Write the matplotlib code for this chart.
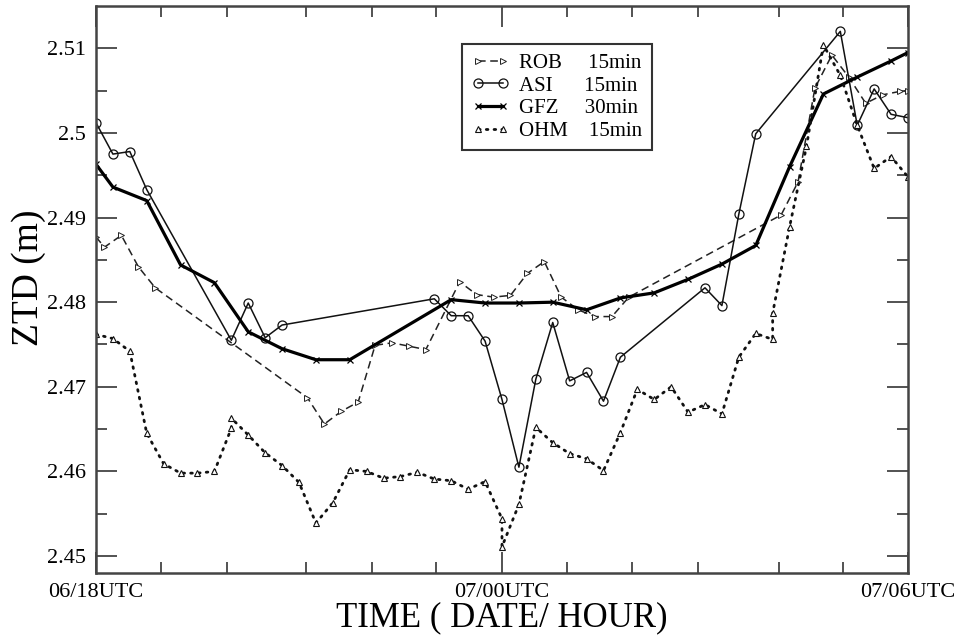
import matplotlib
matplotlib.use('Agg')
import matplotlib.pyplot as plt
from matplotlib.ticker import FixedLocator, FormatStrFormatter

plt.rcParams['font.family'] = ['Liberation Serif', 'DejaVu Serif']

# time in hours after 06/18UTC
rob_t = [0, 0.125, 0.375, 0.625, 0.875, 3.125, 3.375, 3.625, 3.875, 4.125, 4.375, 4.625,
         4.875, 5.375, 5.625, 5.875, 6.125, 6.375, 6.625, 6.875, 7.125, 7.375, 7.625, 7.875,
         10.125, 10.375, 10.625, 10.875, 11.125, 11.375, 11.625, 11.875, 12.0]
rob_ztd = [2.4877, 2.4865, 2.4879, 2.4842, 2.4817, 2.4687, 2.4656, 2.4671, 2.4682, 2.4749,
           2.4752, 2.4748, 2.4744, 2.4824, 2.4809, 2.4806, 2.4808, 2.4834, 2.4848, 2.4806,
           2.4791, 2.4783, 2.4783, 2.4806, 2.4903, 2.4942, 2.5053, 2.5092, 2.5066, 2.5035,
           2.5045, 2.5049, 2.5050]

asi_t = [0, 0.25, 0.5, 0.75, 2.0, 2.25, 2.5, 2.75, 5.0, 5.25, 5.5, 5.75, 6.0, 6.25, 6.5,
         6.75, 7.0, 7.25, 7.5, 7.75, 9.0, 9.25, 9.5, 9.75, 11.0, 11.25, 11.5, 11.75, 12.0]
asi_ztd = [2.5012, 2.4975, 2.4978, 2.4933, 2.4755, 2.4799, 2.4758, 2.4773, 2.4804, 2.4784,
           2.4784, 2.4754, 2.4685, 2.4605, 2.4709, 2.4776, 2.4707, 2.4717, 2.4683, 2.4735,
           2.4817, 2.4796, 2.4904, 2.4999, 2.5120, 2.5009, 2.5052, 2.5022, 2.5018]

gfz_t = [0, 0.25, 0.75, 1.25, 1.75, 2.25, 2.75, 3.25, 3.75, 5.25, 5.75, 6.25, 6.75, 7.25,
         7.75, 8.25, 8.75, 9.25, 9.75, 10.25, 10.75, 11.25, 11.75, 12.0]
gfz_ztd = [2.4963, 2.4936, 2.4920, 2.4844, 2.4823, 2.4765, 2.4745, 2.4732, 2.4732, 2.4803,
           2.4799, 2.4799, 2.4800, 2.4791, 2.4805, 2.4811, 2.4827, 2.4845, 2.4867, 2.4960,
           2.5046, 2.5066, 2.5085, 2.5095]

ohm_t = [0, 0.25, 0.5, 0.75, 1.0, 1.25, 1.5, 1.75, 2.0, 2.0, 2.25, 2.5, 2.75, 3.0, 3.25,
         3.5, 3.75, 4.0, 4.25, 4.5, 4.75, 5.0, 5.25, 5.5, 5.75, 6.0, 6.0, 6.25, 6.5, 6.75,
         7.0, 7.25, 7.5, 7.75, 8.0, 8.25, 8.5, 8.75, 9.0, 9.25, 9.5, 9.75, 10.0, 10.0, 10.25,
         10.5, 10.75, 11.0, 11.25, 11.5, 11.75, 12.0]
ohm_ztd = [2.4762, 2.4757, 2.4742, 2.4645, 2.4609, 2.4598, 2.4598, 2.4600, 2.4651, 2.4663,
           2.4643, 2.4622, 2.4607, 2.4587, 2.4539, 2.4563, 2.4602, 2.4600, 2.4592, 2.4594,
           2.4599, 2.4591, 2.4589, 2.4579, 2.4588, 2.4544, 2.4511, 2.4561, 2.4652, 2.4634,
           2.4621, 2.4615, 2.4601, 2.4646, 2.4697, 2.4685, 2.4700, 2.4670, 2.4679, 2.4668,
           2.4735, 2.4763, 2.4756, 2.4787, 2.4889, 2.4984, 2.5104, 2.5068, 2.5009, 2.4958,
           2.4972, 2.4948]

xtick_pos = [0, 6, 12]
xtick_lab = ['06/18UTC', '07/00UTC', '07/06UTC']
xminor_pos = [0.965, 1.93, 3.11, 4.08, 5.03, 6.96, 7.92, 8.89, 10.09, 11.04]
ytick_pos = [2.45, 2.46, 2.47, 2.48, 2.49, 2.50, 2.51]

fig = plt.figure(figsize=(9.59, 6.37), dpi=100)
ax = fig.add_axes([0.1001, 0.1005, 0.8467, 0.8901])

ax.plot(rob_t, rob_ztd, color='#222222', lw=1.1, ls=(0, (5, 3)), marker='>', ms=4,
        mfc='white', mew=0.7, label='ROB     15min')
ax.plot(asi_t, asi_ztd, color='#111111', lw=1.1, marker='o', ms=6.5, mfc='none',
        mew=0.9, label='ASI      15min')
ax.plot(gfz_t, gfz_ztd, color='black', lw=2.3, marker='x', ms=4, mew=0.9,
        label='GFZ     30min')
ax.plot(ohm_t, ohm_ztd, color='#111111', lw=2.0, ls=(0, (0.6, 2.2)), dash_capstyle='round',
        marker='^', ms=4.5, mfc='white', mew=0.8, label='OHM    15min')

ax.set_xlim(0, 12)
ax.set_ylim(2.448, 2.515)
ax.xaxis.set_major_locator(FixedLocator(xtick_pos))
ax.set_xticklabels(xtick_lab)
ax.xaxis.set_minor_locator(FixedLocator(xminor_pos))
ax.yaxis.set_major_locator(FixedLocator(ytick_pos))
ax.yaxis.set_minor_locator(FixedLocator([2.455, 2.465, 2.475, 2.485, 2.495, 2.505]))
ax.yaxis.set_major_formatter(FormatStrFormatter('%g'))
ax.tick_params(which='both', direction='in', top=True, right=True, labelsize=16,
               color='#444444', width=1.3)
ax.tick_params(which='major', length=15, pad=7)
ax.tick_params(which='minor', length=8)
for s in ax.spines.values():
    s.set_linewidth(1.8)
    s.set_color('#444444')

ax.set_xlabel('TIME ( DATE/ HOUR)', fontsize=25, va='center')
ax.xaxis.set_label_coords(0.5, -0.079)
ax.set_ylabel('ZTD (m)', fontsize=27, va='center')
ax.yaxis.set_label_coords(-0.083, 0.52)

leg = ax.legend(loc='upper left', bbox_to_anchor=(0.4507, 0.933), borderaxespad=0,
                fontsize=15, numpoints=2, handlelength=1.8, handletextpad=0.5,
                labelspacing=0.15, borderpad=0.45, fancybox=False, framealpha=1)
leg.get_frame().set_edgecolor('#333333')
leg.get_frame().set_linewidth(1.5)

plt.savefig('out.png', dpi=100)
